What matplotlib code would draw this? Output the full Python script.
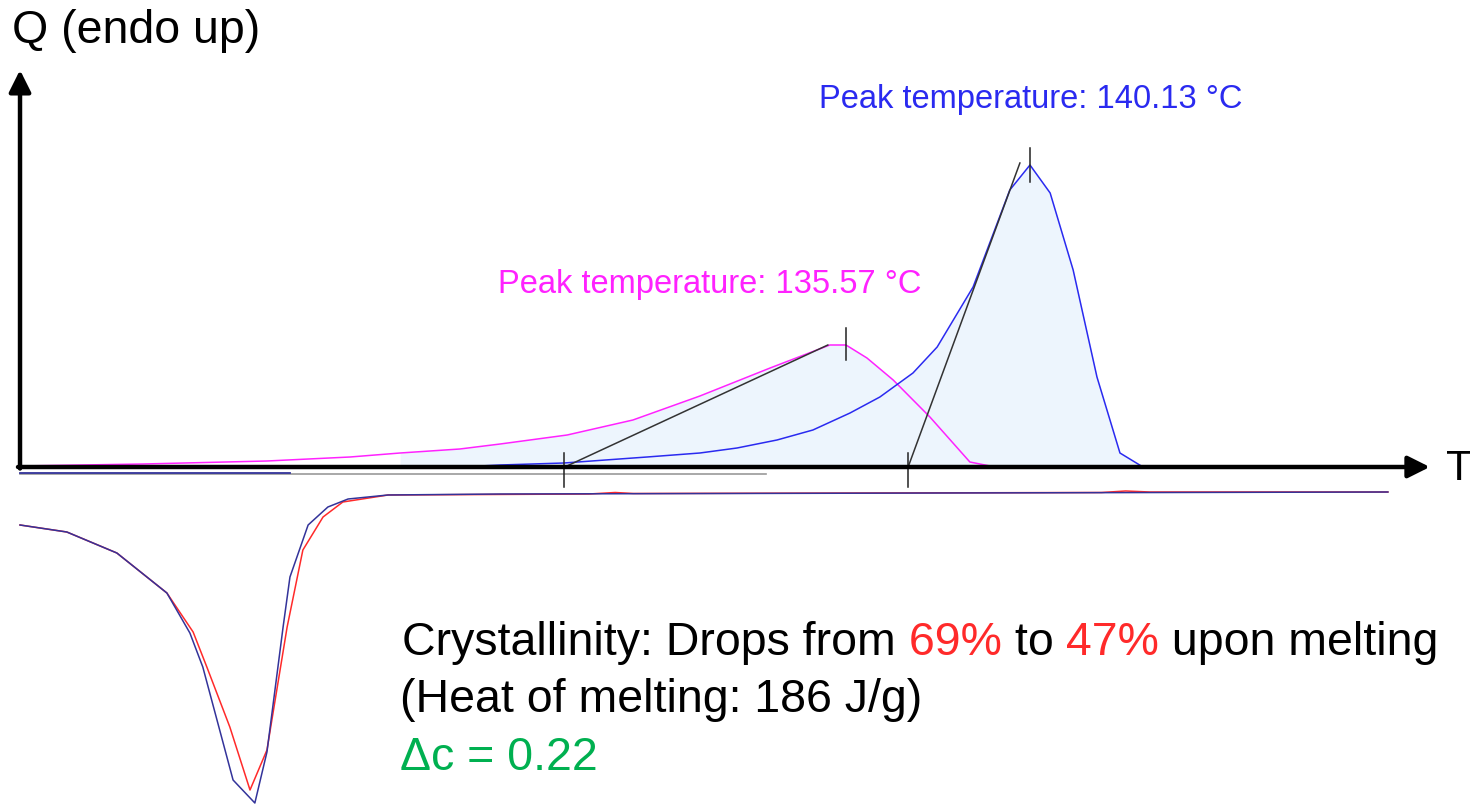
import numpy as np
import matplotlib
matplotlib.use("Agg")
import matplotlib.pyplot as plt

plt.rcParams["font.family"] = ["Liberation Sans", "DejaVu Sans"]

# heating scan, sample B (peak 140.13 °C)
heat_b_T = [115.10, 121.79, 126.00, 127.00, 128.58, 130.64, 131.95, 132.87, 133.86,
            134.75, 135.67, 136.41, 137.23, 137.83, 138.72, 139.63, 140.13, 140.63,
            141.20, 141.79, 142.36, 142.93, 143.35]
heat_b_Q = [-0.01, -0.01, 0.00, 0.02, 0.04, 0.10, 0.14, 0.19, 0.27,
            0.37, 0.54, 0.70, 0.94, 1.20, 1.80, 2.77, 3.02, 2.74,
            1.97, 0.90, 0.14, 0.00, 0.00]

# heating scan, sample A (peak 135.57 °C)
heat_a_T = [115.10, 118.15, 121.22, 123.28, 124.52, 126.00, 127.00, 128.66, 130.29,
            131.95, 133.69, 135.17, 135.57, 136.09, 136.74, 137.65, 138.64, 139.14, 139.63]
heat_a_Q = [0.01, 0.03, 0.06, 0.10, 0.14, 0.18, 0.23, 0.32, 0.47,
            0.71, 0.99, 1.22, 1.22, 1.09, 0.87, 0.50, 0.05, 0.01, 0.00]

# cooling scans (crystallisation exotherm)
cool_navy_T = [115.10, 116.26, 117.50, 118.74, 119.31, 119.63, 120.38, 120.92, 121.22,
               121.62, 121.79, 122.24, 122.73, 123.23, 124.22, 127.00, 149.00]
cool_navy_Q = [-0.58, -0.65, -0.86, -1.26, -1.66, -2.00, -3.13, -3.36, -2.85,
               -1.60, -1.10, -0.58, -0.40, -0.32, -0.28, -0.27, -0.25]
cool_red_T = [115.10, 116.26, 117.50, 118.74, 119.39, 119.73, 120.30, 120.80, 121.22,
              121.72, 122.11, 122.61, 123.10, 124.22, 129.20, 129.85, 130.30,
              141.90, 142.50, 143.10, 149.00]
cool_red_Q = [-0.58, -0.65, -0.86, -1.26, -1.65, -2.00, -2.60, -3.23, -2.83,
              -1.60, -0.83, -0.50, -0.35, -0.28, -0.27, -0.255, -0.265,
              -0.255, -0.24, -0.25, -0.25]

# onset tangents and markers
tan_a = ([128.60, 135.12], [0.0, 1.22])
tan_b = ([137.11, 139.88], [0.0, 3.04])
onset_a, onset_b = 128.58, 137.11
peak_a, peak_b = 135.57, 140.13
peak_a_Q, peak_b_Q = 1.22, 3.02

BLUE = "#2a2af0"
MAGENTA = "#ff22ff"
NAVY = "#33339a"
RED = "#ff2a2a"
FILL = "#edf5fd"
GREEN = "#00b050"

W, H = 1470, 805
fig = plt.figure(figsize=(W / 100, H / 100), dpi=100)
ax = fig.add_axes([0, 0, 1, 1])
ax.set_xlim(114.604, 151.035)
ax.set_ylim(-3.38, 4.67)
ax.axis("off")

# shaded melting areas
ax.fill_between(heat_a_T[4:], 0, heat_a_Q[4:], color=FILL, lw=0, zorder=1)
ax.fill_between(heat_b_T[2:], 0, heat_b_Q[2:], color=FILL, lw=0, zorder=1)

# baseline extrapolations under the axis
ax.plot([115.10, 133.6], [-0.065, -0.065], color="#999999", lw=1.2, zorder=2)
ax.plot([115.10, 121.79], [-0.055, -0.055], color=NAVY, lw=1.3, zorder=2)

ax.plot(heat_a_T, heat_a_Q, color=MAGENTA, lw=1.1, zorder=3)
ax.plot(heat_b_T, heat_b_Q, color=BLUE, lw=1.1, zorder=3)
ax.plot(cool_red_T, cool_red_Q, color=RED, lw=1.1, zorder=3)
ax.plot(cool_navy_T, cool_navy_Q, color=NAVY, lw=1.1, zorder=4)

# tangents
ax.plot(*tan_a, color="#333333", lw=1.1, zorder=5)
ax.plot(*tan_b, color="#333333", lw=1.1, zorder=5)

# onset / peak markers
for t in (onset_a, onset_b):
    ax.plot([t, t], [0.14, -0.20], color="#222222", lw=1.1, zorder=6)
ax.plot([peak_a, peak_a], [peak_a_Q + 0.17, peak_a_Q - 0.15], color="#222222", lw=1.1, zorder=6)
ax.plot([peak_b, peak_b], [peak_b_Q + 0.17, peak_b_Q - 0.17], color="#222222", lw=1.1, zorder=6)

# axes with arrow heads
arrow = dict(arrowstyle="-|>,head_length=0.6,head_width=0.3", color="black",
             lw=3.2, shrinkA=0, shrinkB=0, mutation_scale=22)
ax.annotate("", xy=(150.04, 0.0), xytext=(115.05, 0.0), arrowprops=arrow, zorder=7)
ax.annotate("", xy=(115.10, 3.97), xytext=(115.10, -0.015), arrowprops=arrow, zorder=7)

BIG = 33.5
SMALL = 23.5

ax.text(114.90, 4.24, "Q (endo up)", fontsize=BIG, va="baseline", ha="left")
ax.text(150.44, -0.02, "T", fontsize=31, va="center", ha="left")

ax.text(134.90, 3.59, f"Peak temperature: {peak_b:.2f} °C", color=BLUE,
        fontsize=SMALL, va="baseline", ha="left")
ax.text(126.95, 1.74, f"Peak temperature: {peak_a:.2f} °C", color=MAGENTA,
        fontsize=SMALL, va="baseline", ha="left")

# crystallinity note, with coloured numbers
runs = [("Crystallinity: Drops from", "black"), (" 69%", RED), (" to", "black"),
        (" 47%", RED), (" upon melting", "black")]
prev = fig.text(402 / W, 1 - 655 / H, runs[0][0], color=runs[0][1], fontsize=BIG,
                va="baseline", ha="left")
for s, c in runs[1:]:
    prev = ax.annotate(s, xy=(1, 0), xycoords=prev, va="bottom", ha="left",
                       color=c, fontsize=BIG)
fig.text(400 / W, 1 - 712 / H, "(Heat of melting: 186 J/g)", fontsize=BIG,
         va="baseline", ha="left")
fig.text(400 / W, 1 - 770 / H, "\u0394c = 0.22", fontsize=BIG, color=GREEN,
         va="baseline", ha="left")

fig.savefig("out.png", dpi=100)
